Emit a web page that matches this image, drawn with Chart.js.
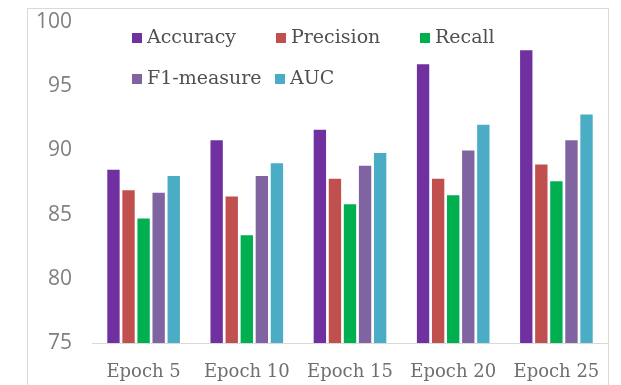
<!DOCTYPE html>
<html>
<head>
<meta charset="utf-8">
<script src="https://cdn.jsdelivr.net/npm/chart.js@4/dist/chart.umd.min.js"></script>
<style>
  html, body { margin: 0; padding: 0; background: #ffffff; }
  #wrap { width: 621px; height: 385px; }
</style>
</head>
<body>
<div id="wrap"><canvas id="c" width="621" height="385"></canvas></div>
<script>
const categories = ["Epoch 5", "Epoch 10", "Epoch 15", "Epoch 20", "Epoch 25"];
const accuracy   = [88.5, 90.8, 91.6, 96.7, 97.8];
const precision  = [86.9, 86.4, 87.8, 87.8, 88.9];
const recall     = [84.7, 83.4, 85.8, 86.5, 87.6];
const f1measure  = [86.7, 88.0, 88.8, 90.0, 90.8];
const auc        = [88.0, 89.0, 89.8, 92.0, 92.8];
const seriesNames = ["Accuracy", "Precision", "Recall", "F1-measure", "AUC"];
const seriesColors = ["#7030A0", "#C0504D", "#00B050", "#8064A2", "#4BACC6"];
const yTicks = [75, 80, 85, 90, 95, 100];

const serif = "'DejaVu Serif', serif";

const frame = {
  id: 'frame',
  beforeDraw(chart) {
    const ctx = chart.ctx;
    ctx.save();
    ctx.fillStyle = '#ffffff';
    ctx.fillRect(0, 0, chart.width, chart.height);
    ctx.strokeStyle = '#d9d9d9';
    ctx.lineWidth = 1;
    ctx.strokeRect(27.5, 8.5, 581, 400);
    ctx.restore();
  }
};

// legend: two rows, drawn inside the plot area like the reference
const legendRows = [
  [{i: 0, x: 132}, {i: 1, x: 276}, {i: 2, x: 420}],
  [{i: 3, x: 132}, {i: 4, x: 275}]
];
const legendRowY = [38, 79];
const innerLegend = {
  id: 'innerLegend',
  afterDraw(chart) {
    const ctx = chart.ctx;
    ctx.save();
    ctx.font = "19px " + serif;
    ctx.textBaseline = 'middle';
    ctx.textAlign = 'left';
    legendRows.forEach((row, r) => {
      const y = legendRowY[r];
      row.forEach(item => {
        const ds = chart.data.datasets[item.i];
        ctx.fillStyle = ds.backgroundColor;
        ctx.fillRect(item.x, y - 5, 10, 10);
        ctx.fillStyle = '#505050';
        ctx.fillText(ds.label, item.x + 15, y);
      });
    });
    ctx.restore();
  }
};

const seriesData = [accuracy, precision, recall, f1measure, auc];

new Chart(document.getElementById('c'), {
  type: 'bar',
  data: {
    labels: categories,
    datasets: seriesNames.map((name, k) => ({
      label: name,
      data: seriesData[k],
      backgroundColor: seriesColors[k],
      borderWidth: 0,
      categoryPercentage: 0.73,
      barPercentage: 0.82
    }))
  },
  options: {
    responsive: false,
    devicePixelRatio: 1,
    animation: false,
    layout: { padding: { top: 22, right: 13, bottom: 0, left: 0 } },
    plugins: {
      legend: { display: false },
      tooltip: { enabled: false }
    },
    scales: {
      x: {
        grid: { display: false, drawTicks: false },
        border: { display: true, color: '#d9d9d9', width: 1 },
        ticks: {
          padding: 19,
          color: '#6f6f6f',
          font: { family: serif, size: 18 },
          maxRotation: 0,
          autoSkip: false
        },
        afterFit(scale) {
          scale.height = 42;
          scale.paddingLeft = 0;
          scale.paddingRight = 0;
        }
      },
      y: {
        min: 75,
        max: 100,
        afterBuildTicks(scale) { scale.ticks = yTicks.map(v => ({ value: v })); },
        grid: { display: false, drawTicks: false },
        border: { display: false },
        ticks: {
          padding: 20,
          color: '#7f7f7f',
          font: { family: "'Open Sans', sans-serif", size: 21 }
        },
        afterFit(scale) {
          scale.width = 92;
          scale.paddingTop = 0;
          scale.paddingBottom = 0;
        }
      }
    }
  },
  plugins: [frame, innerLegend]
});
</script>
</body>
</html>
